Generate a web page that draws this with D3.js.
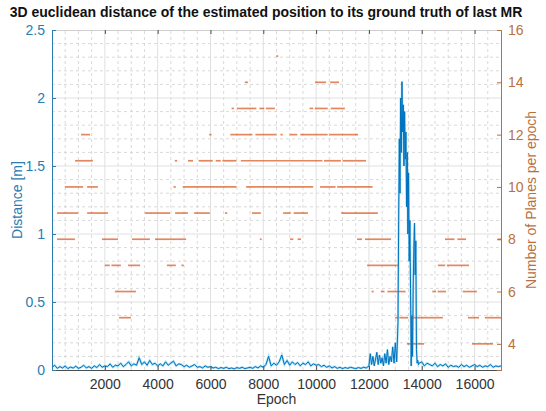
<!DOCTYPE html>
<head>
<meta charset="utf-8">
<script src="https://d3js.org/d3.v7.min.js"></script>
<style>
  body { margin: 0; background: #fff; }
  svg text { font-family: "Liberation Sans", Arial, sans-serif; }
</style>
</head>
<body>
<div id="chart"></div>
<script>
'use strict';

// distance [m], sampled blocks: epochs 0..12000 step 100
var distA = [0.02,0.035,0.012,0.025,0.015,0.03,0.01,0.022,0.014,0.028,0.012,0.02,0.035,0.015,0.025,0.012,0.03,0.018,0.04,0.02,0.03,
  0.025,0.045,0.02,0.035,0.03,0.05,0.025,0.04,0.06,0.03,0.045,0.035,0.09,0.04,0.06,0.035,0.07,0.04,0.05,0.03,
  0.045,0.03,0.06,0.035,0.05,0.065,0.03,0.045,0.04,0.025,0.035,0.02,0.03,0.04,0.02,0.025,0.015,0.03,0.02,0.025,
  0.015,0.02,0.01,0.018,0.012,0.02,0.01,0.015,0.008,0.018,0.012,0.02,0.01,0.015,0.02,0.012,0.025,0.015,0.03,0.02,
  0.04,0.1,0.03,0.05,0.035,0.06,0.11,0.04,0.07,0.035,0.06,0.04,0.055,0.03,0.05,0.04,0.06,0.03,0.045,0.035,
  0.04,0.025,0.035,0.02,0.03,0.015,0.025,0.012,0.02,0.01,0.018,0.012,0.02,0.015,0.01,0.018,0.012,0.02,0.015,0.03];
// epochs 12050..13100 step 50
var distB = [0.12,0.04,0.1,0.03,0.08,0.13,0.04,0.11,0.05,0.09,0.03,0.12,0.05,0.15,0.04,0.1,0.06,0.17,0.05,0.2,0.06,0.35];
// epochs 13125..13900 step 25
var distC = [1.1,1.7,1.3,2.0,1.6,2.12,1.75,1.95,1.5,1.9,1.55,1.75,1.2,1.6,1.0,1.45,0.8,1.1,0.6,0.03,0.4,0.1,0.6,0.9,1.08,0.7,0.95,0.15,0.05,0.07,0.04,0.05];
// epochs 14000..17000 step 100
var distD = [0.06,0.03,0.05,0.04,0.03,0.05,0.025,0.04,0.03,0.045,0.02,0.035,0.025,0.03,0.02,0.04,0.025,0.035,0.02,0.03,0.04,0.025,0.035,0.02,0.03,0.025,0.04,0.02,0.03,0.025,0.03];

// number of planes per epoch: runs of [planes, fromEpoch, toEpoch]
var planeRuns = [
  [15,8500,8530],
  [14,7300,7380],[14,9960,10340],[14,10530,10830],
  [13,6800,6850],[13,7000,7700],[13,7850,8000],[13,8100,8400],[13,9750,9850],[13,9950,10400],[13,10550,11050],
  [12,1100,1400],[12,5950,6000],[12,6750,7550],[12,7700,8450],[12,8650,8700],[12,9000,9250],[12,9400,10400],[12,10500,11550],
  [11,870,1510],[11,4650,4700],[11,5150,5300],[11,5550,6050],[11,6200,6350],[11,6450,6950],[11,7150,10200],[11,10300,10900],[11,11000,11850],
  [10,490,1140],[10,1330,1700],[10,4600,4650],[10,4950,6950],[10,7350,9850],[10,10150,10700],[10,10800,12100],
  [9,190,950],[9,1330,2080],[9,3520,4430],[9,4660,5110],[9,5380,5940],[9,6550,6600],[9,7570,7870],[9,8750,9000],[9,9150,9650],[9,10950,12300],
  [8,190,830],[8,1890,2460],[8,3030,3670],[8,3900,5040],[8,7870,7900],[8,9010,9100],[8,9300,9390],[8,11550,11700],[8,11850,12800],[8,14880,15200],[8,15350,15640],[8,16880,17000],
  [7,2000,2150],[7,2250,2570],[7,2880,3300],[7,4350,4650],[7,4900,4950],[7,11930,13060],[7,14610,14850],[7,14950,15750],
  [6,2380,3140],[6,12100,12140],[6,12450,12550],[6,12700,13350],[6,14400,14500],[6,14600,14880],[6,15550,16050],
  [5,2540,2950],[5,12990,13050],[5,13150,13450],[5,13600,14760],[5,15750,16130],[5,16390,17000],
  [4,13440,14050],[4,15900,16660]
];

var xTicks = [2000,4000,6000,8000,10000,12000,14000,16000];
var leftTicks = [0,0.5,1,1.5,2,2.5];
var rightTicks = [4,6,8,10,12,14,16];

var W = 546, H = 411;
var margin = {top: 30, right: 45, bottom: 41, left: 52};
var blue = "#0072BD", orange = "#D95319";
var blueText = "#2b7cb0", orangeText = "#b9703f";

var svg = d3.select("#chart").append("svg").attr("width", W).attr("height", H);

var x = d3.scaleLinear().domain([0, 17000]).range([margin.left, W - margin.right]);
var yL = d3.scaleLinear().domain([0, 2.5]).range([H - margin.bottom, margin.top]);
var yR = d3.scaleLinear().domain([3, 16]).range([H - margin.bottom, margin.top]);

// grid
var grid = svg.append("g");
grid.selectAll("line.mx").data(d3.range(500, 17000, 500).filter(d => d % 2000)).enter().append("line")
  .attr("x1", d => x(d)).attr("x2", d => x(d)).attr("y1", yL(0)).attr("y2", yL(2.5))
  .attr("stroke", "#cfcfcf").attr("stroke-width", 0.8).attr("stroke-dasharray", "3,3");
grid.selectAll("line.my").data(d3.range(0.1, 2.5, 0.1).filter(d => Math.abs(d * 2 - Math.round(d * 2)) > 0.01)).enter().append("line")
  .attr("y1", d => yL(d)).attr("y2", d => yL(d)).attr("x1", x(0)).attr("x2", x(17000))
  .attr("stroke", "#cfcfcf").attr("stroke-width", 0.8).attr("stroke-dasharray", "3,3");
grid.selectAll("line.gx").data(xTicks).enter().append("line")
  .attr("x1", d => x(d)).attr("x2", d => x(d)).attr("y1", yL(0)).attr("y2", yL(2.5))
  .attr("stroke", "#e0e0e0").attr("stroke-width", 1);
grid.selectAll("line.gy").data(leftTicks.slice(1, -1)).enter().append("line")
  .attr("y1", d => yL(d)).attr("y2", d => yL(d)).attr("x1", x(0)).attr("x2", x(17000))
  .attr("stroke", "#e0e0e0").attr("stroke-width", 1);

// planes per epoch (right axis)
svg.append("g").selectAll("line").data(planeRuns).enter().append("line")
  .attr("x1", d => x(d[1])).attr("x2", d => x(d[2]) + 1)
  .attr("y1", d => yR(d[0])).attr("y2", d => yR(d[0]))
  .attr("stroke", orange).attr("stroke-opacity", 0.7).attr("stroke-width", 1.7);

// distance (left axis)
var dist = [];
distA.forEach((v, i) => dist.push([i * 100, v]));
distB.forEach((v, i) => dist.push([12050 + i * 50, v]));
distC.forEach((v, i) => dist.push([13125 + i * 25, v]));
distD.forEach((v, i) => dist.push([14000 + i * 100, v]));

var line = d3.line().x(d => x(d[0])).y(d => yL(d[1]));
svg.append("path").datum(dist).attr("d", line)
  .attr("fill", "none").attr("stroke", "#4DBEEE").attr("stroke-width", 2.2).attr("stroke-opacity", 0.5);
svg.append("path").datum(dist).attr("d", line)
  .attr("fill", "none").attr("stroke", blue).attr("stroke-width", 1);

// axes
var xAxis = svg.append("g").attr("transform", "translate(0," + yL(0) + ")")
  .call(d3.axisBottom(x).tickValues(xTicks).tickSize(-4).tickPadding(9).tickFormat(d3.format("d")));
xAxis.select(".domain").attr("stroke", "#4d4d4d");
xAxis.selectAll(".tick line").attr("stroke", "#4d4d4d");
xAxis.selectAll("text").attr("fill", "#333").style("font-size", "14px");

var topAxis = svg.append("g").attr("transform", "translate(0," + yL(2.5) + ")")
  .call(d3.axisTop(x).tickValues(xTicks).tickSize(-4).tickFormat(""));
topAxis.select(".domain").attr("stroke", "#cfcfcf");
topAxis.selectAll(".tick line").attr("stroke", "#4d4d4d");

var lAxis = svg.append("g").attr("transform", "translate(" + x(0) + ",0)")
  .call(d3.axisLeft(yL).tickValues(leftTicks).tickSize(-4).tickPadding(7).tickFormat(d3.format("")));
lAxis.selectAll(".domain, .tick line").attr("stroke", blueText);
lAxis.selectAll("text").attr("fill", blueText).style("font-size", "14px");

var rAxis = svg.append("g").attr("transform", "translate(" + x(17000) + ",0)")
  .call(d3.axisRight(yR).tickValues(rightTicks).tickSize(-4).tickPadding(7));
rAxis.selectAll(".domain, .tick line").attr("stroke", orangeText);
rAxis.selectAll("text").attr("fill", orangeText).style("font-size", "14px");

// labels
svg.append("text").attr("x", 266).attr("y", 17).attr("text-anchor", "middle")
  .style("font-weight", "bold").style("font-size", "14px").attr("fill", "#111")
  .text("3D euclidean distance of the estimated position to its ground truth of last MR");
svg.append("text").attr("x", x(8500)).attr("y", 404).attr("text-anchor", "middle")
  .style("font-size", "14px").attr("fill", "#333").text("Epoch");
svg.append("text").attr("transform", "translate(22," + yL(1.25) + ") rotate(-90)").attr("text-anchor", "middle")
  .style("font-size", "14px").attr("fill", blueText).text("Distance [m]");
svg.append("text").attr("transform", "translate(536," + yR(9.5) + ") rotate(-90)").attr("text-anchor", "middle")
  .style("font-size", "14px").attr("fill", orangeText).text("Number of Planes per epoch");
</script>
</body>
